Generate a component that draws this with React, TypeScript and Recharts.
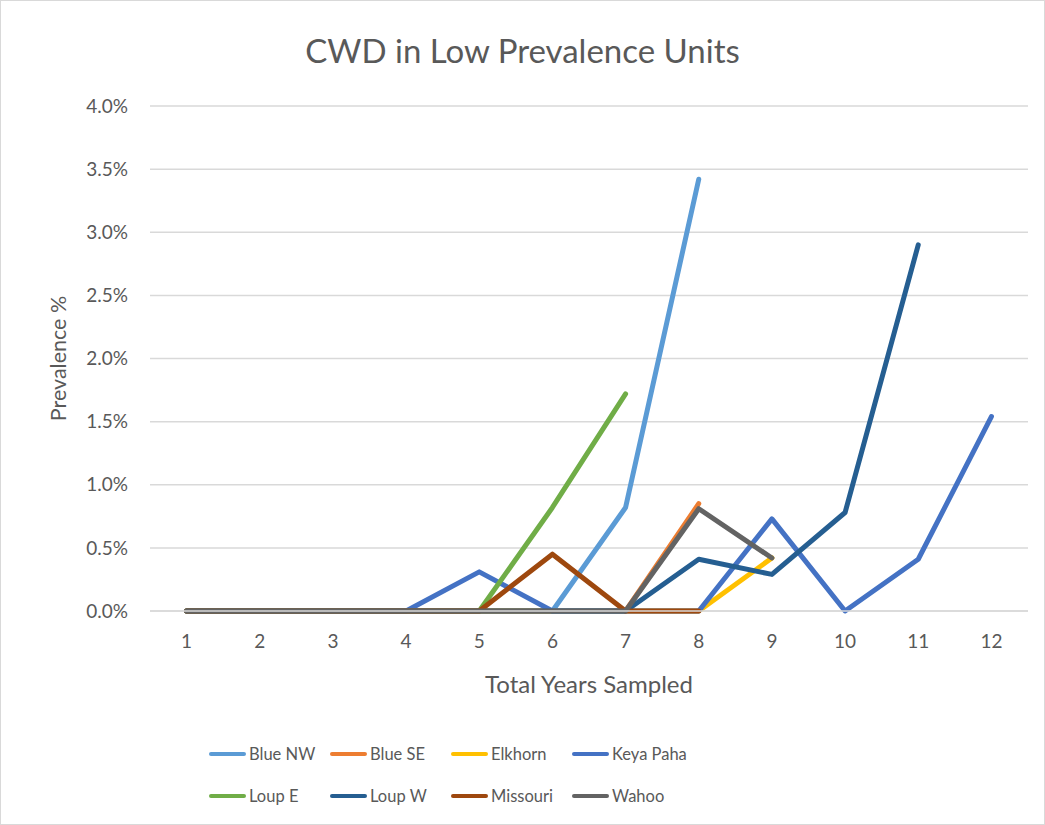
import {
  LineChart, Line, XAxis, YAxis, CartesianGrid, Legend, Label,
} from 'recharts'

const years = [1, 2, 3, 4, 5, 6, 7, 8, 9, 10, 11, 12]

// prevalence as fractions, null where the unit has no sample
const blueNW = [0, 0, 0, 0, 0, 0, 0.0082, 0.0342, null, null, null, null]
const blueSE = [0, 0, 0, 0, 0, 0, 0, 0.0085, null, null, null, null]
const elkhorn = [0, 0, 0, 0, 0, 0, 0, 0, 0.0042, null, null, null]
const keyaPaha = [0, 0, 0, 0, 0.0031, 0, 0, 0, 0.0073, 0, 0.0041, 0.0154]
const loupE = [0, 0, 0, 0, 0, 0.0082, 0.0172, null, null, null, null, null]
const loupW = [0, 0, 0, 0, 0, 0, 0, 0.0041, 0.0029, 0.0078, 0.029, null]
const missouri = [0, 0, 0, 0, 0, 0.0045, 0, 0, null, null, null, null]
const wahoo = [0, 0, 0, 0, 0, 0, 0, 0.0081, 0.0042, null, null, null]

const yTicks = [0, 0.005, 0.01, 0.015, 0.02, 0.025, 0.03, 0.035, 0.04]

const series = [
  { key: 'blueNW', name: 'Blue NW', values: blueNW, color: '#5B9BD5' },
  { key: 'blueSE', name: 'Blue SE', values: blueSE, color: '#ED7D31' },
  { key: 'elkhorn', name: 'Elkhorn', values: elkhorn, color: '#FFC000' },
  { key: 'keyaPaha', name: 'Keya Paha', values: keyaPaha, color: '#4472C4' },
  { key: 'loupE', name: 'Loup E', values: loupE, color: '#70AD47' },
  { key: 'loupW', name: 'Loup W', values: loupW, color: '#255E91' },
  { key: 'missouri', name: 'Missouri', values: missouri, color: '#9E480E' },
  { key: 'wahoo', name: 'Wahoo', values: wahoo, color: '#636363' },
]

const data = years.map((year, i) => {
  const row: Record<string, number | null> = { year }
  series.forEach(s => { row[s.key] = s.values[i] })
  return row
})

const FONT = 'Lato, "Liberation Sans", sans-serif'
const TEXT = '#595959'

function LegendBox() {
  return (
    <div style={{ position: 'relative', top: 53, display: 'flex', flexWrap: 'wrap', width: 484, marginLeft: 208, rowGap: 22 }}>
      {series.map(s => (
        <div key={s.key} style={{ display: 'flex', alignItems: 'center', width: 121 }}>
          <span style={{ display: 'inline-block', width: 37, height: 4, borderRadius: 2, background: s.color, marginRight: 3 }} />
          <span style={{ fontSize: 16.5, color: TEXT, fontFamily: FONT }}>{s.name}</span>
        </div>
      ))}
    </div>
  )
}

export default function App() {
  return (
    <div style={{ position: 'absolute', left: 0, top: 0, width: 1045, height: 825, background: '#fff', boxSizing: 'border-box', border: '1px solid #D9D9D9' }}>
      <div style={{ position: 'absolute', top: 29, width: '100%', textAlign: 'center', fontSize: 33, color: TEXT, fontFamily: FONT }}>
        CWD in Low Prevalence Units
      </div>
      <LineChart width={1043} height={823} data={data}
        margin={{ top: 105, right: 16, left: 0, bottom: 33 }}
        style={{ fontFamily: FONT }}>
        <CartesianGrid stroke="#D9D9D9" strokeWidth={1.5} vertical={false} />
        <XAxis dataKey="year" type="number" domain={[0.5, 12.5]} ticks={years}
          tick={{ fontSize: 19, fill: TEXT }} tickLine={false}
          axisLine={{ stroke: '#D9D9D9', strokeWidth: 1.5 }}
          tickMargin={24} tickSize={0} height={80}>
          <Label value="Total Years Sampled" position="insideBottom" offset={-2}
            style={{ fontSize: 24, fill: TEXT }} />
        </XAxis>
        <YAxis domain={[0, 0.04]} ticks={yTicks} width={149}
          tickFormatter={(v: number) => (v * 100).toFixed(1) + '%'}
          tick={{ fontSize: 19, fill: TEXT }} tickLine={false} axisLine={false}
          tickSize={0} tickMargin={22}>
          <Label value="Prevalence %" angle={-90} position="center" dx={-17}
            style={{ fontSize: 21.5, fill: TEXT, textAnchor: 'middle' }} />
        </YAxis>
        <Legend verticalAlign="bottom" height={100} content={() => <LegendBox />}
          wrapperStyle={{ height: 100 }} />
        {series.map(s => (
          <Line key={s.key} dataKey={s.key} name={s.name} stroke={s.color}
            strokeWidth={5} dot={false} isAnimationActive={false}
            strokeLinecap="round" strokeLinejoin="round" />
        ))}
      </LineChart>
    </div>
  )
}
